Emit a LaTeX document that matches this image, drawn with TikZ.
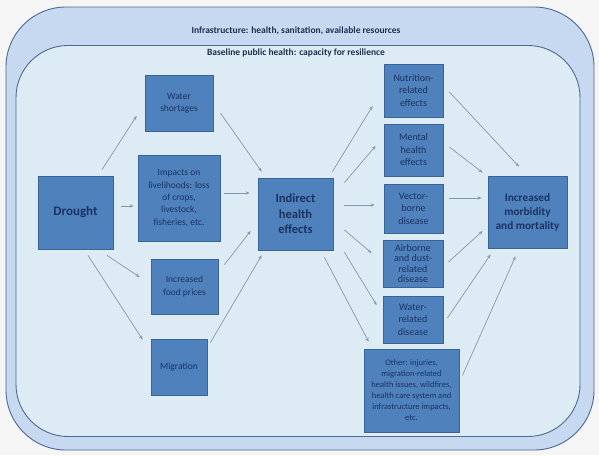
\documentclass[tikz,border=0pt]{standalone}
\usepackage{fontspec}
\setmainfont{Carlito}
\usetikzlibrary{arrows.meta,calc}
\definecolor{bgc}{HTML}{F5F5F5}
\definecolor{outerfill}{HTML}{C6D9F0}
\definecolor{innerfill}{HTML}{DDEBF4}
\definecolor{framec}{HTML}{4C6A92}
\definecolor{boxfill}{HTML}{4F81BD}
\definecolor{boxdraw}{HTML}{3A6495}
\definecolor{textc}{HTML}{1A3360}
\definecolor{titlec}{HTML}{1F2F4F}
\definecolor{linec}{HTML}{8497B0}
\tikzset{
  frame/.style={draw=framec, line width=0.9pt, inner sep=0pt},
  box/.style={draw=boxdraw, fill=boxfill, line width=0.8pt, inner sep=0pt, align=center, text=textc},
  small/.style={font=\fontsize{9.5}{12.4}\selectfont},
  rsmall/.style={font=\fontsize{10}{12.5}\selectfont},
  tiny/.style={font=\fontsize{8.5}{11}\selectfont},
  bigb/.style={font=\fontsize{12.5}{15.5}\selectfont\bfseries},
  conn/.style={draw=linec, line width=0.7pt, -{Stealth[length=4pt,width=3.4pt]}},
  ttl/.style={font=\fontsize{9.5}{11}\selectfont\bfseries, text=titlec, inner sep=1pt}
}
\begin{document}
\begin{tikzpicture}[x=1pt,y=-1pt]
\useasboundingbox (0,0) rectangle (599,455);
\fill[bgc] (0,0) rectangle (599,455);
% containers
\node[frame, fill=outerfill, rounded corners=60pt, minimum width=588pt, minimum height=443pt] (outer) at (300,228.5) {};
\node[frame, fill=innerfill, rounded corners=52pt, minimum width=564pt, minimum height=391pt] (inner) at (298,241) {};
\node[ttl] (t1) at (296,31) {Infrastructure: health, sanitation, available resources};
\node[ttl] (t2) at (296,53) {Baseline public health: capacity for resilience};
% boxes
\node[box, minimum width=75pt, minimum height=73pt, font=\fontsize{13}{15}\selectfont\bfseries] (drought) at (75.5,212.5) {Drought};
\node[box, small, minimum width=68pt, minimum height=56pt] (water) at (179,103) {Water\\shortages};
\node[box, small, minimum width=82pt, minimum height=86pt] (impacts) at (179,198) {Impacts on\\livelihoods: loss\\of crops,\\livestock,\\fisheries, etc.};
\node[box, small, minimum width=67pt, minimum height=55pt] (food) at (184.5,286.5) {Increased\\food prices};
\node[box, small, minimum width=56pt, minimum height=56pt] (migration) at (179,367) {Migration};
\node[box, bigb, minimum width=75pt, minimum height=72pt] (indirect) at (295.5,214) {Indirect\\health\\effects};
\node[box, rsmall, minimum width=59pt, minimum height=53pt] (nutrition) at (413.5,90.5) {Nutrition-\\related\\effects};
\node[box, rsmall, minimum width=59pt, minimum height=52pt] (mental) at (413.5,150) {Mental\\health\\effects};
\node[box, rsmall, minimum width=59pt, minimum height=49pt] (vector) at (413.5,208.5) {Vector-\\borne\\disease};
\node[box, font=\fontsize{10}{10.6}\selectfont, minimum width=60pt, minimum height=47pt] (airborne) at (413,263.5) {Airborne\\and dust-\\related\\disease};
\node[box, rsmall, minimum width=60pt, minimum height=47pt] (waterrel) at (413,319.5) {Water-\\related\\disease};
\node[box, tiny, minimum width=95pt, minimum height=83pt] (other) at (411.5,390.5) {Other: injuries,\\migration-related\\health issues, wildfires,\\health care system and\\infrastructure impacts,\\etc.};
\node[box, font=\fontsize{11.3}{14}\selectfont\bfseries, minimum width=79pt, minimum height=72pt] (morb) at (527.5,212) {Increased\\morbidity\\and mortality};
% connectors
\draw[conn] ($(drought.north)+(26.5,-6)$) -- ($(water.west)+(-8,13)$);
\draw[conn] ($(drought.east)+(8,-6.5)$) -- ($(impacts.west)+(-4,8)$);
\draw[conn] ($(drought.south)+(31.5,6)$) -- ($(food.west)+(-11,-9.5)$);
\draw[conn] ($(drought.south)+(12.5,6)$) -- ($(migration.north west)+(-8,1)$);
\draw[conn] ($(water.east)+(7,10)$) -- ($(indirect.north west)+(4,-6)$);
\draw[conn] ($(impacts.east)+(4,-5)$) -- ($(indirect.west)+(-8,-21)$);
\draw[conn] ($(food.north east)+(6,6)$) -- ($(indirect.west)+(-7,17)$);
\draw[conn] ($(migration.north east)+(3,4)$) -- ($(indirect.south west)+(4,5)$);
\draw[conn] ($(indirect.north east)+(-1,-6)$) -- ($(nutrition.west)+(-11,15.5)$);
\draw[conn] ($(indirect.north east)+(11,5)$) -- ($(mental.west)+(-8,-4)$);
\draw[conn] ($(indirect.east)+(11,-9)$) -- ($(vector.west)+(-9,-3.5)$);
\draw[conn] ($(indirect.east)+(11,16)$) -- ($(airborne.west)+(-11,-10.5)$);
\draw[conn] ($(indirect.south east)+(11,2)$) -- ($(waterrel.west)+(-6,-14.5)$);
\draw[conn] ($(indirect.south east)+(-9,7)$) -- ($(other.north west)+(5,-7)$);
\draw[conn] ($(nutrition.east)+(6,1.5)$) -- ($(morb.north)+(-8.5,-9)$);
\draw[conn] ($(mental.east)+(6,-3)$) -- ($(morb.north west)+(-5,-3)$);
\draw[conn] ($(vector.east)+(6,-10.5)$) -- ($(morb.west)+(-6,-14)$);
\draw[conn] ($(airborne.east)+(5,-1.5)$) -- ($(morb.west)+(-5,19)$);
\draw[conn] ($(waterrel.east)+(4,-1.5)$) -- ($(morb.south west)+(3,6)$);
\draw[conn] ($(other.east)+(3,-15)$) -- ($(morb.south)+(-12,8)$);
\end{tikzpicture}
\end{document}
